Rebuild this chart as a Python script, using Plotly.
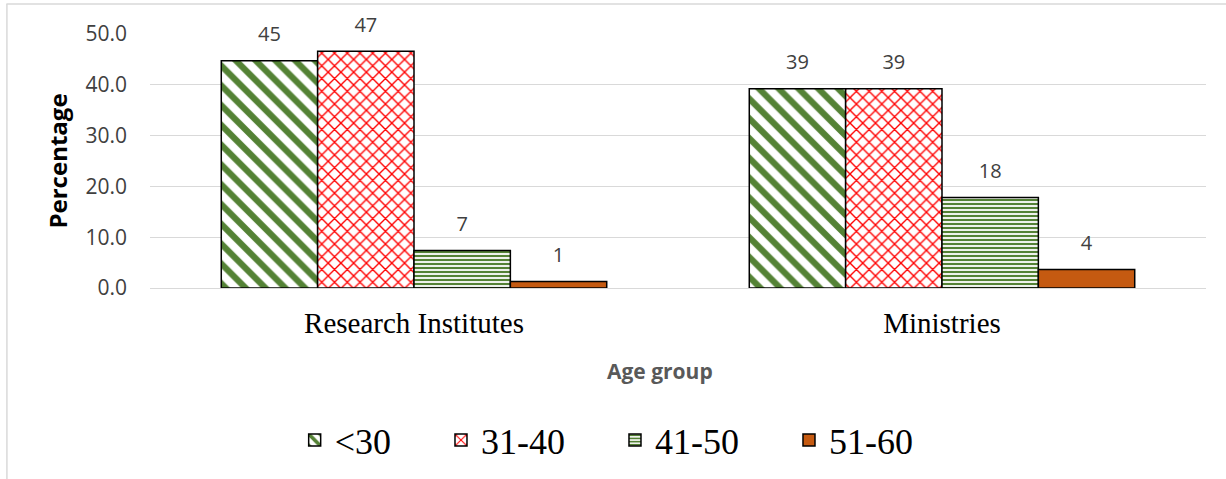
import plotly.graph_objects as go

categories = ["Research Institutes", "Ministries"]
series_names = ["<30", "31-40", "41-50", "51-60"]
under_30 = [44.75, 39.2]
age_31_40 = [46.6, 39.2]
age_41_50 = [7.37, 17.8]
age_51_60 = [1.28, 3.63]
y_ticks = [0, 10, 20, 30, 40, 50]
y_tick_labels = ["0.0", "10.0", "20.0", "30.0", "40.0", "50.0"]

series_values = [under_30, age_31_40, age_41_50, age_51_60]

GREEN = "#548235"
styles = [
    dict(color="white", pattern=dict(shape="\\", fgcolor=GREEN, bgcolor="white", size=14,
                                     solidity=0.45, fgopacity=1)),
    dict(color="white", pattern=dict(shape="x", fgcolor="#FF0000", bgcolor="white", size=9,
                                     solidity=0.28, fgopacity=1)),
    dict(color="white", pattern=dict(shape="-", fgcolor=GREEN, bgcolor="white", size=4,
                                     solidity=0.55, fgopacity=1)),
    dict(color="#C55A11"),
]

NB = "\u00a0"
fig = go.Figure()
for name, vals, st in zip(series_names, series_values, styles):
    fig.add_trace(go.Bar(
        x=categories, y=vals, name=name + NB * 5,
        marker=dict(line=dict(color="black", width=1.5), **st),
        hoverinfo="skip",
    ))
for name, vals in zip(series_names, series_values):
    fig.add_trace(go.Scatter(
        x=categories, y=vals, mode="markers+text",
        text=[f"{v:.0f}" for v in vals], textposition="top center",
        textfont=dict(family="Open Sans", size=20, color="#404040"),
        marker=dict(size=22, color="rgba(0,0,0,0)"),
        showlegend=False, cliponaxis=False, hoverinfo="skip",
    ))

fig.update_layout(
    width=1226, height=479,
    margin=dict(l=150, r=20, t=34, b=190.5, autoexpand=False),
    paper_bgcolor="white", plot_bgcolor="white",
    barmode="group", bargap=0.27, scattermode="group", scattergap=0.27,
    showlegend=True,
    legend=dict(orientation="h", x=0.137, xanchor="left", y=-0.599, yanchor="middle",
                font=dict(family="Liberation Serif", size=36, color="black"),
                bgcolor="rgba(0,0,0,0)"),
    xaxis=dict(
        showgrid=False, ticks="", ticklabelstandoff=9,
        showline=True, linecolor="#d9d9d9", linewidth=1.3,
        tickfont=dict(family="Liberation Serif", size=29, color="black"),
    ),
    yaxis=dict(
        range=[0, 50], tickvals=y_ticks, ticktext=y_tick_labels,
        showgrid=True, gridcolor="#d9d9d9", gridwidth=1.3, zeroline=False,
        ticks="", ticklabelstandoff=22,
        tickfont=dict(family="Open Sans", size=21, color="#404040"),
        title=dict(text="<b>Percentage</b>", standoff=11,
                   font=dict(family="Open Sans", size=24, color="black")),
    ),
    annotations=[
        dict(text="<b>Age group</b>", xref="paper", yref="paper", x=0.483, y=-0.328,
             xanchor="center", yanchor="middle", showarrow=False,
             font=dict(family="Open Sans", size=21, color="#595959")),
    ],
    shapes=[
        dict(type="line", xref="paper", yref="paper", x0=-0.136, x1=1.05, y0=1.118, y1=1.118,
             line=dict(color="#d9d9d9", width=1.5)),
        dict(type="line", xref="paper", yref="paper", x0=-0.1355, x1=-0.1355, y0=1.118, y1=-0.8,
             line=dict(color="#d9d9d9", width=1.5)),
    ],
)

fig.write_html("out.html", config={"displayModeBar": False},
               post_script="document.body.style.margin='0px';")
